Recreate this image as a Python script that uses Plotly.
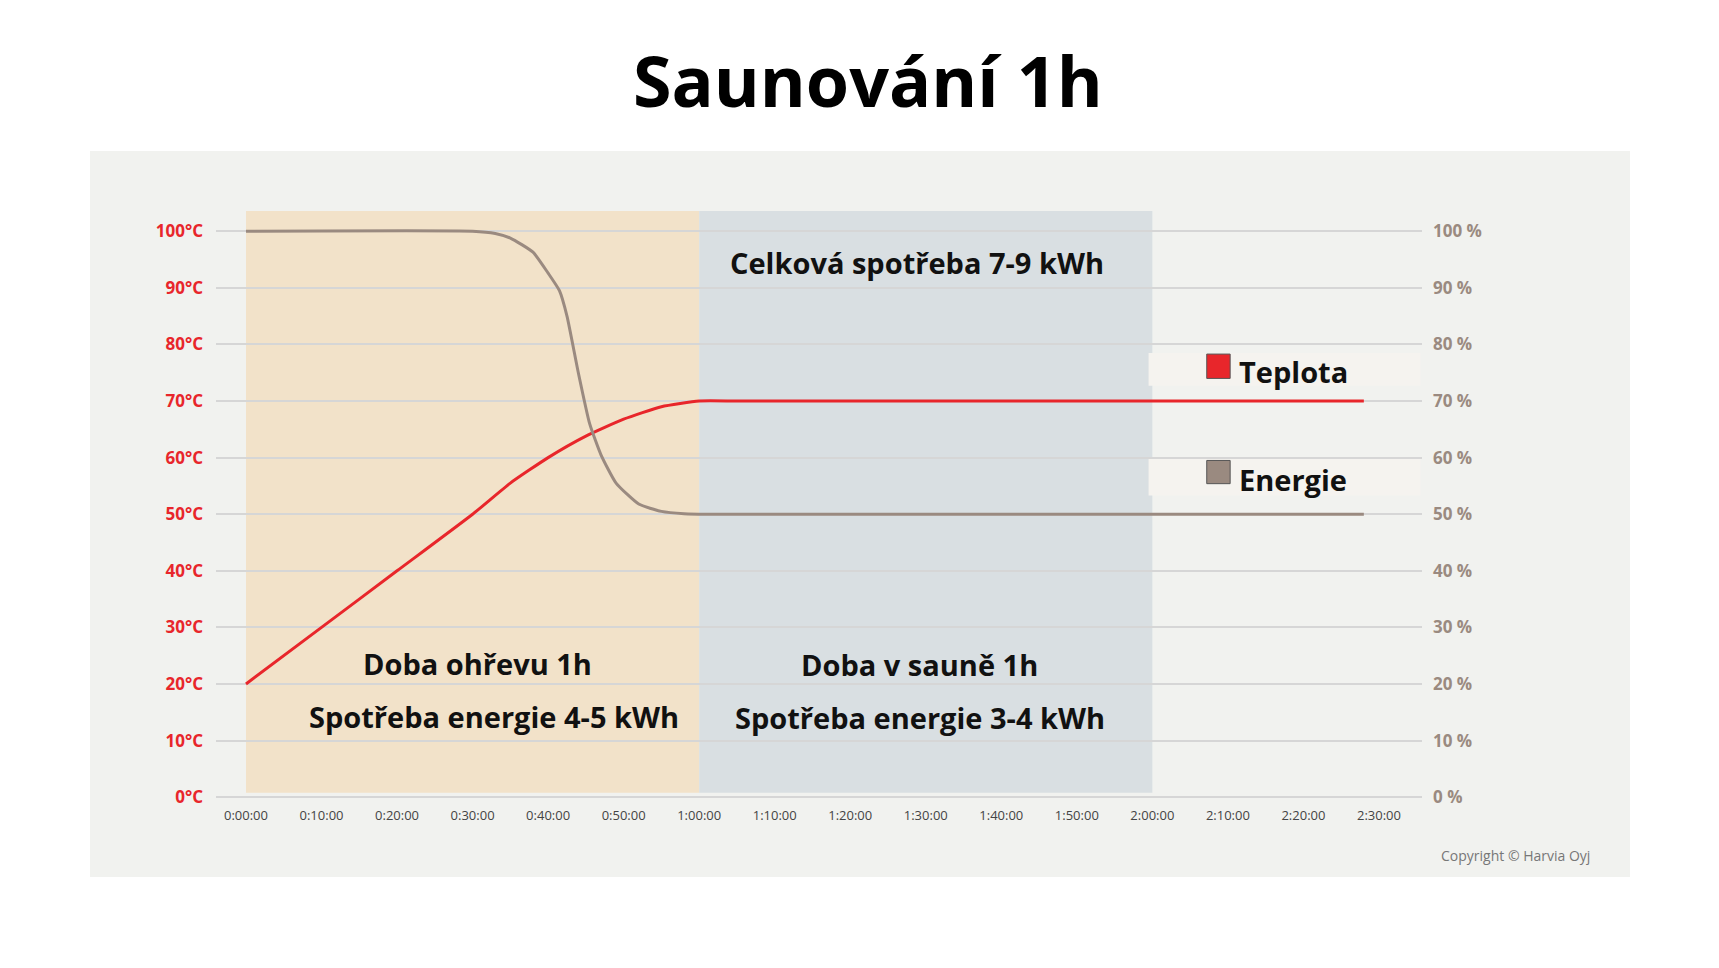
import plotly.graph_objects as go

t_min = [0, 10, 20, 30, 35, 40, 45, 50, 55, 60, 65, 80, 148]
teplota = [20, 30, 40, 50, 55.5, 60, 63.8, 66.8, 69, 70, 70, 70, 70]
e_min = [0, 30, 33, 35, 38, 40, 41.5, 42.5, 44, 45.5, 47, 49, 52, 55, 58, 62, 80, 148]
energie = [100, 100, 99.6, 98.8, 96.3, 92.6, 89.5, 85, 75, 66, 60.5, 55.5, 51.8, 50.5, 50.1, 50, 50, 50]
xticks = list(range(0, 151, 10))
xlabels = ["0:00:00","0:10:00","0:20:00","0:30:00","0:40:00","0:50:00","1:00:00","1:10:00",
           "1:20:00","1:30:00","1:40:00","1:50:00","2:00:00","2:10:00","2:20:00","2:30:00"]
yticks = list(range(0, 101, 10))
ylabels_l = [f"{v}°C" for v in yticks]
ylabels_r = [f"{v} %" for v in yticks]

W, H = 1719, 968
L, R, T, B = 208, 1414, 178, 792
def px(x): return (x - L) / (R - L)
def py(y): return (B - y) / (B - T)

RED = "#e8262b"; BRN = "#9a8a80"
fig = go.Figure()
fig.add_trace(go.Scatter(x=t_min, y=teplota, mode="lines", line=dict(color=RED, width=3, shape="spline", smoothing=0.5), showlegend=False))
fig.add_trace(go.Scatter(x=e_min, y=energie, mode="lines", line=dict(color=BRN, width=3, shape="spline", smoothing=0.5), showlegend=False))
fig.add_trace(go.Scatter(x=[0], y=[0], yaxis="y2", mode="markers", marker=dict(opacity=0), showlegend=False, hoverinfo="skip"))

shapes = [
    dict(type="rect", xref="paper", yref="paper", x0=px(82), x1=px(1622), y0=py(869), y1=py(143),
         fillcolor="#f1f2ef", line_width=0, layer="below"),
    dict(type="rect", xref="x", yref="y", x0=0, x1=60, y0=0.8, y1=103.6, fillcolor="#f2e2c9", line_width=0, layer="below"),
    dict(type="rect", xref="x", yref="y", x0=60, x1=120, y0=0.8, y1=103.6, fillcolor="#d9dfe2", line_width=0, layer="below"),
    dict(type="rect", xref="x", yref="y", x0=119.5, x1=155.5, y0=72.7, y1=78.5, fillcolor="#f5f3ef", line_width=0, layer="below"),
    dict(type="rect", xref="x", yref="y", x0=119.5, x1=155.5, y0=53.3, y1=59.9, fillcolor="#f5f3ef", line_width=0, layer="below"),
    dict(type="rect", xref="x", yref="y", x0=127.2, x1=130.3, y0=74.0, y1=78.3, fillcolor=RED, line=dict(color="#555", width=1)),
    dict(type="rect", xref="x", yref="y", x0=127.2, x1=130.3, y0=55.4, y1=59.5, fillcolor=BRN, line=dict(color="#555", width=1)),
]
F = "Open Sans"
def A(text, x, y, size=29, xanchor="center"):
    return dict(text=f"<b>{text}</b>", x=x, y=y, xanchor=xanchor, yanchor="middle",
                font=dict(size=size, color="#111", family=F), showarrow=False)
ann = [
    dict(text="<b>Saunování 1h</b>", xref="paper", yref="paper", x=px(W / 2), y=py(72), yanchor="middle",
         font=dict(size=70, color="#000", family=F), showarrow=False),
    A("Celková spotřeba 7-9 kWh", 88.9, 94.4),
    A("Doba ohřevu 1h", 30.6, 23.6),
    A("Spotřeba energie 4-5 kWh", 32.8, 14.3),
    A("Doba v sauně 1h", 89.2, 23.4),
    A("Spotřeba energie 3-4 kWh", 89.2, 14.1),
    A("Teplota", 131.2, 75.2, xanchor="left"),
    A("Energie", 131.2, 56.2, xanchor="left"),
    dict(text="Copyright © Harvia Oyj", xref="paper", yref="paper", x=px(1584), y=py(847), xanchor="right", yanchor="middle",
         font=dict(size=14, color="#777", family=F), showarrow=False),
]
fig.update_layout(
    width=W, height=H, paper_bgcolor="white", plot_bgcolor="rgba(0,0,0,0)",
    margin=dict(l=L, r=W-R, t=T, b=H-B, autoexpand=False),
    shapes=shapes, annotations=ann,
    xaxis=dict(range=[-3.97, 155.7], tickvals=xticks, ticktext=xlabels, showgrid=False, zeroline=False,
               tickfont=dict(size=13, color="#444", family=F), ticks="", ticklabelstandoff=6),
    yaxis=dict(range=[-0.5, 108], tickvals=yticks, ticktext=ylabels_l, gridcolor="#d6d6d6", gridwidth=1.5,
               zeroline=False, tickfont=dict(size=17, color=RED, family=F, weight=700), ticklabelstandoff=12),
    yaxis2=dict(range=[-0.5, 108], overlaying="y", side="right", tickvals=yticks, ticktext=ylabels_r, showgrid=False,
                zeroline=False, tickfont=dict(size=17, color="#9a8a80", family=F, weight=700), ticklabelstandoff=10),
)
fig.write_html("out.html")
